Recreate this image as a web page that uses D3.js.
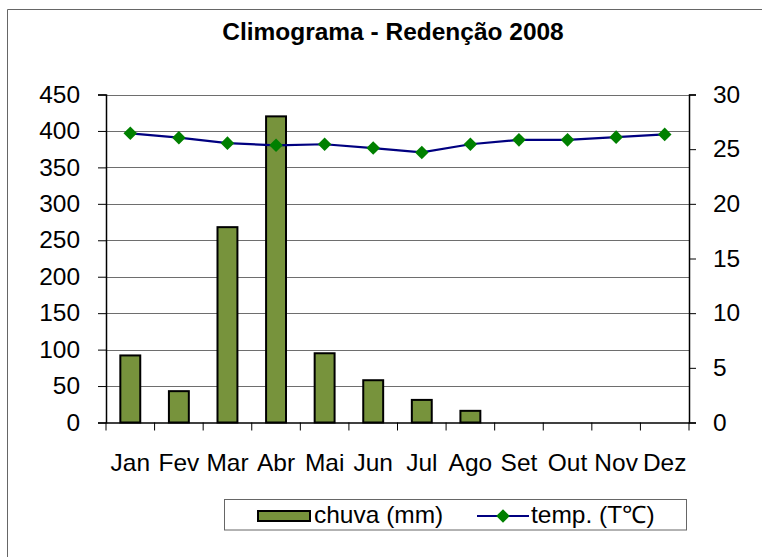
<!DOCTYPE html>
<html><head><meta charset="utf-8">
<script src="https://cdn.jsdelivr.net/npm/d3@7"></script>
<style>
html,body{margin:0;padding:0;background:#fff;}
svg{display:block;font-family:"Liberation Sans",Arial,sans-serif;}
</style></head>
<body><svg id="c" width="762" height="557"></svg>
<script>
const months = ["Jan","Fev","Mar","Abr","Mai","Jun","Jul","Ago","Set","Out","Nov","Dez"];
const chuva = [92, 43, 268, 420, 95, 58, 31, 16, 0, 0, 0, 0];
const temp = [26.45, 26.05, 25.55, 25.35, 25.45, 25.1, 24.7, 25.45, 25.85, 25.85, 26.1, 26.35];
const leftTicks = [0,50,100,150,200,250,300,350,400,450];
const rightTicks = [0,5,10,15,20,25,30];
const title = "Climograma - Redenção 2008";
const legendLabels = ["chuva (mm)", "temp. (T℃)"];

const svg = d3.select("#c");
const L = 106, R = 689, T = 94.5, B = 422.5;
const FONT = "Liberation Sans, Arial, sans-serif";
const FS = 24, STRETCH = 1.02;

function stretch(sel, f){
  const k = f || STRETCH;
  sel.each(function(){ const w = this.getComputedTextLength(); d3.select(this).attr("textLength", w*k).attr("lengthAdjust","spacingAndGlyphs"); });
}

// outer chart border (only top/left visible in the frame)
svg.append("path").attr("d","M7.5,557 V9.5 H762").attr("fill","none").attr("stroke","#666").attr("stroke-width",1);

const x = d3.scaleBand().domain(months).range([L,R]).padding(0);
const yL = d3.scaleLinear().domain([0,450]).range([B,T]);
const yR = d3.scaleLinear().domain([0,30]).range([B,T]);

// gridlines
svg.append("g").selectAll("line").data(leftTicks.filter(d=>d>0)).join("line")
  .attr("x1",L).attr("x2",R).attr("y1",d=>Math.round(yL(d))+0.5).attr("y2",d=>Math.round(yL(d))+0.5)
  .attr("stroke","#6e6e6e").attr("stroke-width",1);

// bars
const bw = x.bandwidth()*0.41;
svg.append("g").selectAll("rect").data(months.map((m,i)=>({m,v:chuva[i]})).filter(d=>d.v>0)).join("rect")
  .attr("x",d=>x(d.m)+(x.bandwidth()-bw)/2).attr("width",bw)
  .attr("y",d=>yL(d.v)).attr("height",d=>B-yL(d.v))
  .attr("fill","#77933c").attr("stroke","#000").attr("stroke-width",2);

// left axis
const axL = svg.append("g").attr("transform",`translate(${L},0)`)
  .call(d3.axisLeft(yL).tickValues(leftTicks).tickSize(8).tickPadding(18).tickFormat(d3.format("d")));
axL.select(".domain").attr("stroke","#000").attr("stroke-width",1.5);
axL.selectAll(".tick line").attr("stroke","#000");
axL.selectAll("text").attr("font-size",FS).attr("fill","#000").attr("font-family",FONT).call(stretch);

// right axis
const axR = svg.append("g").attr("transform",`translate(${R},0)`)
  .call(d3.axisRight(yR).tickValues(rightTicks).tickSize(7).tickPadding(17).tickFormat(d3.format("d")));
axR.select(".domain").attr("stroke","#000").attr("stroke-width",1.5);
axR.selectAll(".tick line").attr("stroke","#000");
axR.selectAll("text").attr("font-size",FS).attr("fill","#000").attr("font-family",FONT).call(stretch);

// bottom axis
const axB = svg.append("g").attr("transform",`translate(0,${B})`)
  .call(d3.axisBottom(x).tickSize(0).tickPadding(31));
axB.select(".domain").attr("stroke","#000").attr("stroke-width",1.5);
axB.selectAll("text").attr("font-size",FS).attr("fill","#000").attr("font-family",FONT).call(stretch);
// category boundary ticks
svg.append("g").selectAll("line").data(months.concat(["_end"])).join("line")
  .attr("x1",(d,i)=>i<months.length?x(d):R).attr("x2",(d,i)=>i<months.length?x(d):R)
  .attr("y1",B).attr("y2",B+8).attr("stroke","#000").attr("stroke-width",1);

// temperature line
const line = d3.line().x((d,i)=>x(months[i])+x.bandwidth()/2).y(d=>yR(d));
svg.append("path").datum(temp).attr("d",line).attr("fill","none").attr("stroke","#000080").attr("stroke-width",2.2);
const diamond = d3.symbol().type(d3.symbolSquare).size(92);
svg.append("g").selectAll("path").data(temp).join("path")
  .attr("d",diamond())
  .attr("transform",(d,i)=>`translate(${x(months[i])+x.bandwidth()/2},${yR(d)}) rotate(45)`)
  .attr("fill","#008000");

// title
svg.append("text").attr("x",393).attr("y",40).attr("text-anchor","middle")
  .attr("font-size",24).attr("font-weight","bold").attr("fill","#000").attr("font-family",FONT).text(title).call(stretch, 1.02);

// legend
const lg = svg.append("g");
lg.append("rect").attr("x",224.5).attr("y",499.5).attr("width",462).attr("height",30.5)
  .attr("fill","#fff").attr("stroke","#666").attr("stroke-width",1);
lg.append("rect").attr("x",258).attr("y",511).attr("width",52).attr("height",10)
  .attr("fill","#77933c").attr("stroke","#000").attr("stroke-width",2);
lg.append("text").attr("x",314).attr("y",523).attr("font-size",FS).attr("fill","#000").attr("font-family",FONT).text(legendLabels[0]).call(stretch);
lg.append("line").attr("x1",477).attr("x2",529).attr("y1",516).attr("y2",516).attr("stroke","#000080").attr("stroke-width",2);
lg.append("path").attr("d",diamond()).attr("transform","translate(503,516) rotate(45)").attr("fill","#008000");
lg.append("text").attr("x",531).attr("y",523).attr("font-size",FS).attr("fill","#000").attr("font-family",FONT).text(legendLabels[1]).call(stretch);
</script></body></html>
